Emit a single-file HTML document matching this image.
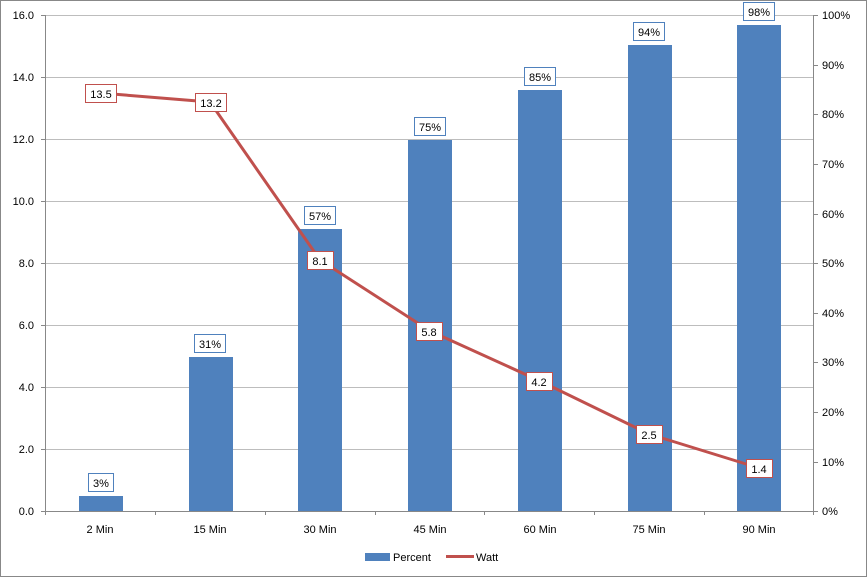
<!DOCTYPE html>
<html><head><meta charset="utf-8"><style>
html,body{margin:0;padding:0;background:#fff;}
svg{display:block;font-family:"Liberation Sans",sans-serif;font-size:11px;}
</style></head><body>
<svg width="867" height="577" viewBox="0 0 867 577">
<rect x="0.5" y="0.5" width="866" height="576" fill="#fff" stroke="#888"/>
<g stroke="#bdbdbd" stroke-width="1">
<line x1="45" y1="15.5" x2="813" y2="15.5"/>
<line x1="45" y1="77.5" x2="813" y2="77.5"/>
<line x1="45" y1="139.5" x2="813" y2="139.5"/>
<line x1="45" y1="201.5" x2="813" y2="201.5"/>
<line x1="45" y1="263.5" x2="813" y2="263.5"/>
<line x1="45" y1="325.5" x2="813" y2="325.5"/>
<line x1="45" y1="387.5" x2="813" y2="387.5"/>
<line x1="45" y1="449.5" x2="813" y2="449.5"/>
</g>
<g fill="#4f81bd">
<rect x="79" y="496" width="44" height="15"/>
<rect x="189" y="357" width="44" height="154"/>
<rect x="298" y="229" width="44" height="282"/>
<rect x="408" y="140" width="44" height="371"/>
<rect x="518" y="90" width="44" height="421"/>
<rect x="628" y="45" width="44" height="466"/>
<rect x="737" y="25" width="44" height="486"/>
</g>
<g stroke="#888" stroke-width="1" fill="none">
<line x1="45.5" y1="15" x2="45.5" y2="515"/>
<line x1="813.5" y1="15" x2="813.5" y2="515"/>
<line x1="41" y1="511.5" x2="818" y2="511.5"/>
<path d="M41 15.5H45M41 77.5H45M41 139.5H45M41 201.5H45M41 263.5H45M41 325.5H45M41 387.5H45M41 449.5H45"/>
<path d="M813 15.5H818M813 65.5H818M813 114.5H818M813 164.5H818M813 214.5H818M813 263.5H818M813 313.5H818M813 362.5H818M813 412.5H818M813 462.5H818"/>
<path d="M155.5 511V515M265.5 511V515M375.5 511V515M484.5 511V515M594.5 511V515M704.5 511V515"/>
</g>
<g fill="#000" text-anchor="end">
<text x="34" y="19">16.0</text><text x="34" y="81">14.0</text><text x="34" y="143">12.0</text>
<text x="34" y="205">10.0</text><text x="34" y="267">8.0</text><text x="34" y="329">6.0</text>
<text x="34" y="391">4.0</text><text x="34" y="453">2.0</text><text x="34" y="515">0.0</text>
</g>
<g fill="#000">
<text x="822" y="19">100%</text><text x="822" y="69">90%</text><text x="822" y="118">80%</text>
<text x="822" y="168">70%</text><text x="822" y="218">60%</text><text x="822" y="267">50%</text>
<text x="822" y="317">40%</text><text x="822" y="366">30%</text><text x="822" y="416">20%</text>
<text x="822" y="466">10%</text><text x="822" y="515">0%</text>
</g>
<g fill="#000" text-anchor="middle">
<text x="100" y="533">2 Min</text><text x="210" y="533">15 Min</text><text x="320" y="533">30 Min</text>
<text x="430" y="533">45 Min</text><text x="540" y="533">60 Min</text><text x="649" y="533">75 Min</text>
<text x="759" y="533">90 Min</text>
</g>
<polyline points="100,93 210,102 320,260 430,331 540,381 649,434 759,468" fill="none" stroke="#c0504d" stroke-width="3" stroke-linejoin="round"/>
<g fill="#fff" stroke="#4f81bd" stroke-width="1">
<rect x="88.5" y="473.5" width="25" height="18"/>
<rect x="194.5" y="334.5" width="31" height="18"/>
<rect x="304.5" y="206.5" width="31" height="18"/>
<rect x="414.5" y="117.5" width="31" height="18"/>
<rect x="524.5" y="67.5" width="31" height="18"/>
<rect x="633.5" y="22.5" width="31" height="18"/>
<rect x="743.5" y="2.5" width="31" height="18"/>
</g>
<g fill="#000" text-anchor="middle">
<text x="101" y="487">3%</text><text x="210" y="348">31%</text><text x="320" y="220">57%</text>
<text x="430" y="131">75%</text><text x="540" y="81">85%</text><text x="649" y="36">94%</text>
<text x="759" y="16">98%</text>
</g>
<g fill="#fff" stroke="#c0504d" stroke-width="1">
<rect x="85.5" y="84.5" width="31" height="18"/>
<rect x="195.5" y="93.5" width="31" height="18"/>
<rect x="307.5" y="251.5" width="26" height="18"/>
<rect x="416.5" y="322.5" width="26" height="18"/>
<rect x="526.5" y="372.5" width="26" height="18"/>
<rect x="636.5" y="425.5" width="26" height="18"/>
<rect x="746.5" y="459.5" width="26" height="18"/>
</g>
<g fill="#000" text-anchor="middle">
<text x="101" y="98">13.5</text><text x="211" y="107">13.2</text><text x="320" y="265">8.1</text>
<text x="429" y="336">5.8</text><text x="539" y="386">4.2</text><text x="649" y="439">2.5</text>
<text x="759" y="473">1.4</text>
</g>
<rect x="365" y="553" width="25" height="8" fill="#4f81bd"/>
<text x="393" y="561" fill="#000">Percent</text>
<line x1="446" y1="556.5" x2="474" y2="556.5" stroke="#c0504d" stroke-width="3"/>
<text x="476" y="561" fill="#000">Watt</text>
</svg>
</body></html>
